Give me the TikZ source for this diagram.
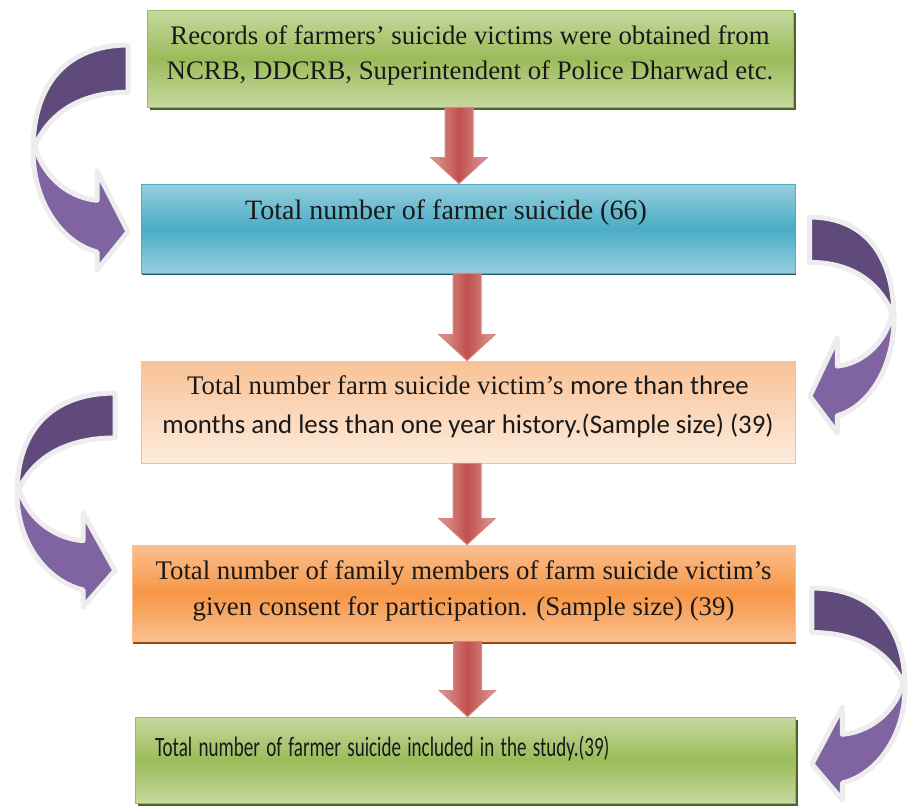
\documentclass[tikz,border=0pt]{standalone}
\usepackage{graphicx}
\usepackage{fontspec}
\setmainfont{Liberation Serif}
\newfontfamily\calibri{Carlito}
\usetikzlibrary{positioning, calc, shadows}

\definecolor{greenmid}{HTML}{9BBB59}
\definecolor{greenpale}{HTML}{C6D9A0}
\definecolor{greendark}{HTML}{4F6228}
\definecolor{bluemid}{HTML}{4BACC6}
\definecolor{bluepale}{HTML}{96CFDF}
\definecolor{bluedark}{HTML}{215967}
\definecolor{peachtop}{HTML}{F9C296}
\definecolor{peachlow}{HTML}{FDEBDD}
\definecolor{orangemid}{HTML}{F79646}
\definecolor{orangepale}{HTML}{FAC090}
\definecolor{orangedark}{HTML}{984807}
\definecolor{reddeep}{HTML}{C0504D}
\definecolor{redpale}{HTML}{DE9A98}
\definecolor{backpurple}{HTML}{604A7B}
\definecolor{frontpurple}{HTML}{8064A2}

\tikzset{
    flowbox/.style={rectangle, align=center, inner sep=3pt, text=black!90,
        font=\fontsize{13.4}{17.5}\selectfont},
    greenbox/.style={flowbox, draw=greenmid, top color=greenpale, bottom color=greenpale, middle color=greenmid,
        drop shadow={shadow xshift=1.3pt, shadow yshift=-1.3pt, fill=greendark, opacity=1}},
    bluebox/.style={flowbox, draw=bluemid, top color=bluepale, bottom color=bluepale, middle color=bluemid,
        drop shadow={shadow xshift=0.6pt, shadow yshift=-1pt, fill=bluedark, opacity=1}},
    peachbox/.style={flowbox, draw=orangepale, top color=peachtop, bottom color=peachlow},
    orangebox/.style={flowbox, draw=orangepale, top color=orangepale, bottom color=orangepale, middle color=orangemid,
        drop shadow={shadow xshift=0.4pt, shadow yshift=-1.5pt, fill=orangedark, opacity=1}},
    redarrow/.style={left color=redpale, right color=redpale, middle color=reddeep, draw=redpale!70!reddeep, line width=0.5pt,
        to path={let \p1=(\tikztostart), \p2=(\tikztotarget) in
            (\x1-7pt,\y1) -- (\x1+7pt,\y1) -- (\x1+7pt,\y2+13pt) -- (\x1+14pt,\y2+13pt)
            -- (\x1,\y2) -- (\x1-14pt,\y2+13pt) -- (\x1-7pt,\y2+13pt) -- cycle}},
    glow/.style={draw=black!7, line width=2.5pt, line join=round},
    pics/bendarrow/.style={code={
        % back half of the bent arrow
        \filldraw[glow, fill=backpurple] (0.98,0) .. controls (0.4,0) and (0,0.15) .. (0,0.47)
            .. controls (0.15,0.3) and (0.5,0.21) .. (0.98,0.21) -- cycle;
        % front half with the head
        \filldraw[glow, fill=frontpurple] (0.02,0.45) .. controls (0.12,0.6) and (0.4,0.68) .. (0.66,0.69)
            -- (0.66,0.56) -- (0.98,0.83) -- (0.66,1) -- (0.66,0.92)
            .. controls (0.3,0.88) and (0,0.7) .. (0,0.47) -- cycle;
    }}
}

\begin{document}
\begin{tikzpicture}[x=0.5pt, y=-0.5pt]
    \useasboundingbox (0,0) rectangle (908,805);

    % bent arrows at the sides
    \pic[xscale=97, yscale=225] at (33,45) {bendarrow};
    \pic[xscale=-86, yscale=216] at (894,217) {bendarrow};
    \pic[xscale=100, yscale=214] at (17,393) {bendarrow};
    \pic[xscale=-95, yscale=212] at (905,588) {bendarrow};

    % boxes
    \node[greenbox, minimum width=323pt, minimum height=48.5pt, text depth=6pt] (records) at (470,58.5)
        {Records of farmers’ suicide victims were obtained from\\NCRB, DDCRB, Superintendent of Police Dharwad etc.};
    \node[bluebox, minimum width=327pt, minimum height=44.5pt, text depth=19pt,
        font=\fontsize{14}{17.5}\selectfont] (total) at (468,228.5)
        {\hspace*{-22pt}Total number of farmer suicide (66)};
    \node[peachbox, minimum width=327pt, minimum height=51pt, text depth=7.5pt,
        font=\fontsize{13.4}{19.5}\selectfont] (sample) at (468,412)
        {Total number farm suicide victim’s {\calibri more than three}\\
        {\calibri months and less than one year history.(Sample size) (39)}};
    \node[orangebox, minimum width=331.5pt, minimum height=48pt, text depth=5pt,
        font=\fontsize{13.4}{18}\selectfont] (family) at (463.5,593)
        {Total number of family members of farm suicide victim’s\\given consent for participation. (Sample size) (39)};
    \node[greenbox, drop shadow={opacity=0}, minimum height=43pt, text width=310pt, inner xsep=10pt, align=left,
        text depth=14pt, font=\calibri\fontsize{14}{15}\selectfont] (study) at (465,760)
        {\scalebox{0.68}[1]{Total number of farmer suicide included in the study.(39)}};

    % block arrows between the boxes
    \draw[redarrow] ([xshift=-5.5pt]records.south) to (total.north);
    \draw[redarrow] ([xshift=-0.5pt]total.south) to (sample.north);
    \draw[redarrow] ([xshift=-0.5pt]sample.south) to (family.north);
    \draw[redarrow] ([xshift=2pt]family.south) to (study.north);
\end{tikzpicture}
\end{document}
